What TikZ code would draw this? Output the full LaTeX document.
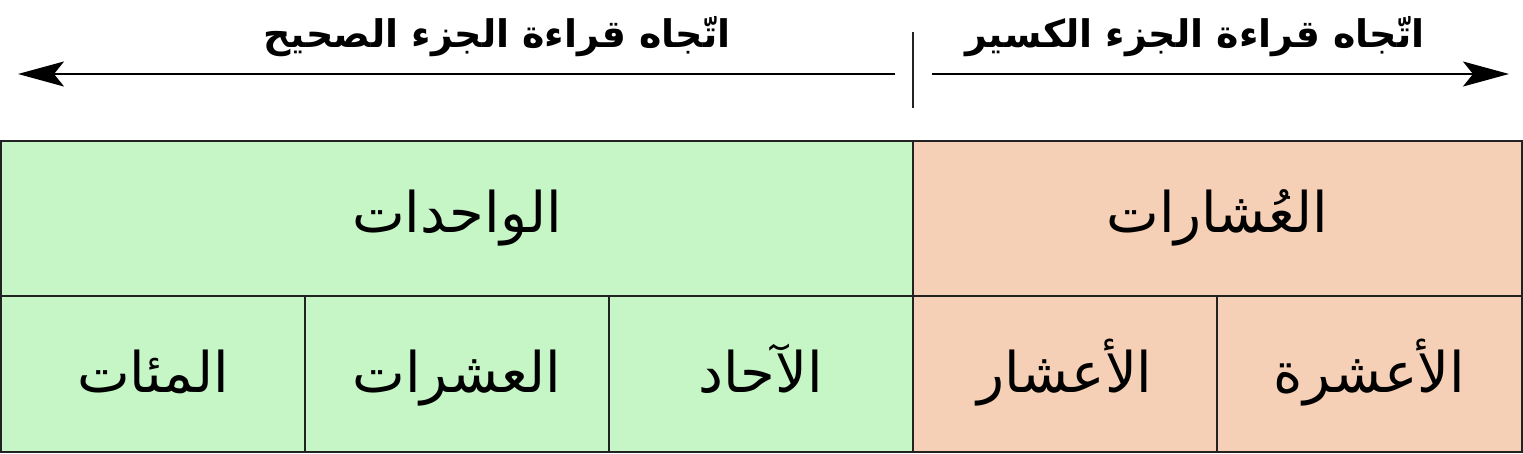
\documentclass[tikz,border=0pt]{standalone}
\usepackage{fontspec}
\usetikzlibrary{arrows.meta}
\TeXXeTstate=1
\newfontfamily\naskh[Script=Arabic]{DejaVu Sans}
\newfontfamily\kufi[Script=Arabic]{DejaVu Sans}
\definecolor{wholegreen}{HTML}{C6F6C6}
\definecolor{fracpeach}{HTML}{F6D0B6}
\definecolor{linegray}{HTML}{222222}
\tikzset{
	cell/.style={draw=linegray, line width=1pt, inner sep=0pt, minimum width=152pt, minimum height=78pt, text height=19pt, text depth=0pt, font=\naskh\fontsize{28}{32}\selectfont},
	whole/.style={cell, fill=wholegreen},
	frac/.style={cell, fill=fracpeach},
	heading/.style={inner sep=0pt, font=\kufi\bfseries\fontsize{19}{24}\selectfont},
	readarrow/.style={line width=1pt, draw=black, -{Stealth[length=23pt,width=12.5pt,inset=5pt]}}
}
\begin{document}
\begin{tikzpicture}[x=0.5pt,y=-0.5pt]
	\useasboundingbox (0,0) rectangle (1523,454);
	% top row
	\node[whole, minimum width=456pt, minimum height=77.5pt, text height=14.5pt] (units) at (457,218.5) {\beginR الواحدات\endR};
	\node[frac, minimum width=304.5pt, minimum height=77.5pt, text height=14.5pt] (fracs) at (1217.5,218.5) {\beginR العُشارات\endR};
	
	% bottom row
	\node[whole] (hundreds) at (153,374) {\beginR المئات\endR};
	\node[whole] (tens) at (457,374) {\beginR العشرات\endR};
	\node[whole] (ones) at (761,374) {\beginR الآحاد\endR};
	\node[frac] (tenths) at (1065,374) {\beginR الأعشار\endR};
	\node[frac, minimum width=152.5pt] (tenth) at (1369.5,374) {\beginR الأعشرة\endR};
	
	% reading directions
	\node[heading] (lefthead) at (497,37) {\beginR اتّجاه قراءة الجزء الصحيح\endR};
	\node[heading] (righthead) at (1195,37) {\beginR اتّجاه قراءة الجزء الكسير\endR};
	\coordinate (ticktop) at (913,32);
	\coordinate (tickbot) at (913,108);
	\coordinate (lstart) at (895,74);
	\coordinate (lend) at (18,74);
	\coordinate (rstart) at (932,74);
	\coordinate (rend) at (1509,74);
	\draw[line width=1pt, linegray] (ticktop) -- (tickbot);
	\draw[readarrow] (lstart) -- (lend);
	\draw[readarrow] (rstart) -- (rend);
\end{tikzpicture}
\end{document}
